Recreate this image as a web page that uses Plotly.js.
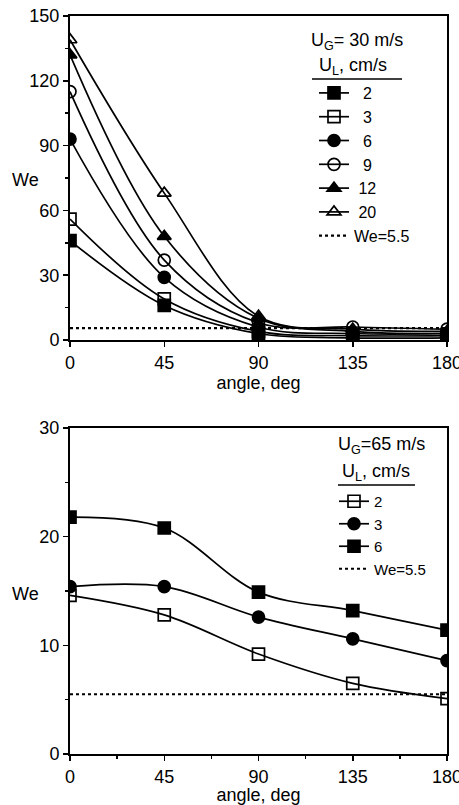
<!DOCTYPE html>
<html><head><meta charset="utf-8">
<script src="https://cdn.plot.ly/plotly-3.0.1.min.js"></script>
<style>html,body{margin:0;padding:0;background:#fff}#chart{width:459px;height:805px}</style>
</head><body><div id="chart"></div>
<script>
const angles = [0, 45, 90, 135, 180];
const tickVals = [0, 45, 90, 135, 180];
// Top panel: U_G = 30 m/s
const topLabels = ["\u00a0\u00a02", "\u00a0\u00a03", "\u00a0\u00a06", "\u00a0\u00a09", "\u00a012", "\u00a020"];
const top_ul2  = [46, 16, 3, 1, 1];
const top_ul3  = [56, 19, 4, 2, 2];
const top_ul6  = [93, 29, 6, 3, 3];
const top_ul9  = [115, 37, 8, 6, 5];
const top_ul12 = [132, 48, 10, 4, 3];
const top_ul20 = [139, 68, 11, 5, 4];
const topSymbols = ["square", "square-open", "circle", "circle-open", "triangle-up", "triangle-up-open"];
// Bottom panel: U_G = 65 m/s
const botLabels = ["2", "3", "6"];
const bot_ul2 = [14.6, 12.8, 9.2, 6.5, 5.1];
const bot_ul3 = [15.4, 15.4, 12.6, 10.6, 8.6];
const bot_ul6 = [21.8, 20.8, 14.9, 13.2, 11.4];
const botSymbols = ["square-open", "circle", "square"];
const weLimit = 5.5;
const weLabel = "We=5.5";
const topHeader1 = "U<sub>G</sub>= 30 m/s";
const botHeader1 = "U<sub>G</sub>=65 m/s";
const header2 = "U<sub>L</sub>, cm/s";

const FONT = "Liberation Sans, Arial, sans-serif";
const traces = [];
const topSeries = [top_ul2, top_ul3, top_ul6, top_ul9, top_ul12, top_ul20];
topSeries.forEach((ys, i) => {
  traces.push({
    x: angles, y: ys, xaxis: "x", yaxis: "y", type: "scatter", mode: "lines+markers",
    name: topLabels[i], legend: "legend",
    line: {color: "#000", width: 1.7, shape: "spline", smoothing: 1},
    marker: {symbol: topSymbols[i], size: 12, color: "#000", line: {color: "#000", width: 1.7}}
  });
});
traces.push({
  x: [angles[0], angles[angles.length-1]], y: [weLimit, weLimit], xaxis: "x", yaxis: "y",
  type: "scatter", mode: "lines", name: weLabel, legend: "legend",
  line: {color: "#000", width: 2.2, dash: "dot"}
});
const botSeries = [bot_ul2, bot_ul3, bot_ul6];
botSeries.forEach((ys, i) => {
  traces.push({
    x: angles, y: ys, xaxis: "x2", yaxis: "y2", type: "scatter", mode: "lines+markers",
    name: botLabels[i], legend: "legend2",
    line: {color: "#000", width: 1.7, shape: "spline", smoothing: 1},
    marker: {symbol: botSymbols[i], size: 12, color: "#000", line: {color: "#000", width: 1.7}}
  });
});
traces.push({
  x: [angles[0], angles[angles.length-1]], y: [weLimit, weLimit], xaxis: "x2", yaxis: "y2",
  type: "scatter", mode: "lines", name: weLabel, legend: "legend2",
  line: {color: "#000", width: 2.2, dash: "dot"}
});

const axBase = {
  showgrid: false, zeroline: false, showline: true, linecolor: "#000", linewidth: 2,
  mirror: true, ticks: "outside", ticklen: 5, tickwidth: 1.5, tickcolor: "#000",
  ticklabeloverflow: "allow",
  tickfont: {family: FONT, size: 18, color: "#000"}
};
const px = v => (v - 70) / 377;
const py = v => (754 - v) / 738;
const annFont = {family: FONT, size: 18, color: "#000"};
const ann = (text, x, y) => ({text: text, xref: "paper", yref: "paper", x: px(x), y: py(y),
  xanchor: "center", yanchor: "middle", showarrow: false, font: annFont});
const layout = {
  width: 459, height: 805,
  margin: {l: 70, r: 12, t: 16, b: 51},
  paper_bgcolor: "#fff", plot_bgcolor: "#fff",
  font: {family: FONT, color: "#000"},
  xaxis: Object.assign({}, axBase, {domain: [0, 1], anchor: "y", range: [0, 180], tickvals: tickVals,
    title: {text: "angle, deg", font: {family: FONT, size: 18}, standoff: 2}}),
  yaxis: Object.assign({}, axBase, {domain: [0.561, 1], anchor: "x", range: [0, 150], tickvals: [0, 30, 60, 90, 120, 150],
    minor: {dtick: 15, ticklen: 3, ticks: "outside", tickcolor: "#000"}}),
  xaxis2: Object.assign({}, axBase, {domain: [0, 1], anchor: "y2", range: [0, 180], tickvals: tickVals,
    minor: {dtick: 22.5, ticklen: 3, ticks: "outside", tickcolor: "#000"},
    title: {text: "angle, deg", font: {family: FONT, size: 18}, standoff: 2}}),
  yaxis2: Object.assign({}, axBase, {domain: [0, 0.4417], anchor: "x2", range: [0, 30], tickvals: [0, 10, 20, 30],
    minor: {dtick: 5, ticklen: 3, ticks: "outside", tickcolor: "#000"}}),
  legend: {
    x: px(314), y: py(76), xanchor: "left", yanchor: "top", bgcolor: "rgba(0,0,0,0)",
    font: {family: FONT, size: 16, color: "#000"}, tracegroupgap: 0, itemwidth: 30
  },
  legend2: {
    x: px(334), y: py(485), xanchor: "left", yanchor: "top", bgcolor: "rgba(0,0,0,0)",
    font: {family: FONT, size: 15, color: "#000"}, tracegroupgap: 0, itemwidth: 30
  },
  annotations: [
    {text: "We", xref: "paper", yref: "paper", x: px(10), y: py(180), xanchor: "left", yanchor: "middle", showarrow: false, font: annFont},
    {text: "We", xref: "paper", yref: "paper", x: px(10), y: py(594), xanchor: "left", yanchor: "middle", showarrow: false, font: annFont},
    ann(topHeader1, 357, 42),
    ann(header2, 353, 66),
    ann(botHeader1, 381, 445),
    ann(header2, 376, 472)
  ],
  shapes: [
    {type: "line", xref: "paper", yref: "paper", x0: px(312), x1: px(402), y0: py(79), y1: py(79), line: {color: "#000", width: 1.5}},
    {type: "line", xref: "paper", yref: "paper", x0: px(338), x1: px(415), y0: py(485), y1: py(485), line: {color: "#000", width: 1.5}}
  ],
  showlegend: true
};
Plotly.newPlot("chart", traces, layout, {displayModeBar: false, staticPlot: true});
</script></body></html>
